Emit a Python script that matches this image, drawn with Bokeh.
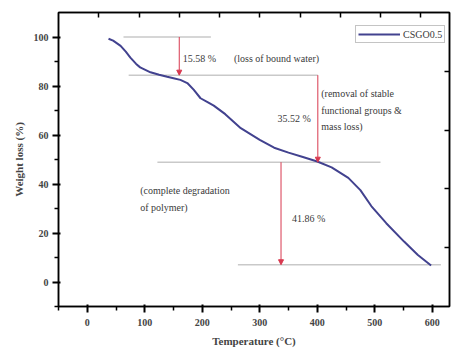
from bokeh.plotting import figure
from bokeh.models import (Range1d, LinearAxis, FixedTicker, Arrow, NormalHead,
                          Label, Legend, LegendItem)
from bokeh.embed import file_html
from bokeh.resources import INLINE

# ---- data ----
temperature = [37, 45, 58, 67, 75, 85, 92, 110, 125, 139, 150, 162, 174, 185, 197,
               210, 220, 240, 267, 300, 325, 350, 375, 400, 425, 454, 475, 494,
               520, 551, 575, 598]
weight = [99.3, 98.5, 96.4, 94.0, 91.6, 89.0, 87.6, 85.6, 84.6, 83.8, 83.2, 82.5,
          81.2, 78.5, 75.0, 73.3, 72.0, 68.5, 62.8, 58.0, 54.8, 52.8, 51.0, 49.2,
          46.8, 42.5, 37.5, 31.0, 24.0, 16.5, 11.0, 6.7]
series_name = "CSGO0.5"
x_ticks = [0, 100, 200, 300, 400, 500, 600]
x_minor = [-50, 50, 150, 250, 350, 450, 550]
y_ticks = [0, 20, 40, 60, 80, 100]
y_minor = [-10, 10, 30, 50, 70, 90]
top_ticks = [20, 90, 160, 230, 300, 370, 440, 510, 580]
right_ticks = [14, 38, 62, 86]
start_level = 100.0
drops = [15.58, 35.52, 41.86]
drop_labels = ["15.58 %", "35.52 %", "41.86 %"]
drop_temps = [160, 401, 337]
level_spans = [(63, 215), (72, 401), (122, 510), (262, 615)]
stage_texts = [["(loss of bound water)"],
               ["(removal of stable", "functional groups &", "mass loss)"],
               ["(complete degradation", "of polymer)"]]

levels = [start_level]
for d in drops:
    levels.append(round(levels[-1] - d, 2))

SERIF = "Liberation Serif"

p = figure(width=451, height=356, output_backend="svg", toolbar_location=None,
           x_range=Range1d(-50, 630), y_range=Range1d(-10, 110),
           min_border_left=58, min_border_right=2, min_border_top=12,
           min_border_bottom=50, background_fill_color="white",
           border_fill_color="white")
p.grid.visible = False
p.outline_line_color = "black"
p.outline_line_width = 1.5

# horizontal level lines
for lvl, (x0, x1) in zip(levels, level_spans):
    p.line([x0, x1], [lvl, lvl], line_color="#c9c9c9", line_width=1.5)

# drop arrows
for i, xt in enumerate(drop_temps):
    p.add_layout(Arrow(end=NormalHead(size=5, fill_color="#d8394f", line_color="#d8394f"),
                       x_start=xt, y_start=levels[i], x_end=xt, y_end=levels[i + 1],
                       line_color="#d8394f", line_width=1))

# curve
r = p.line(temperature, weight, line_color="#42428f", line_width=2)

# labels
TC = "#3a3a3a"
def lab(x, y, t, align="left"):
    p.add_layout(Label(x=x, y=y, text=t, text_font=SERIF, text_font_size="10px",
                       text_color=TC, text_align=align, text_baseline="middle"))

lab(166, 91.3, drop_labels[0])
lab(389, 66.8, drop_labels[1], "right")
lab(356, 26.0, drop_labels[2])
lab(255, 91.3, stage_texts[0][0])
for k, t in enumerate(stage_texts[1]):
    lab(407, 77.0 - 6.8 * k, t)
for k, t in enumerate(stage_texts[2]):
    lab(92, 37.2 - 6.6 * k, t)

# axes styling
for ax in (p.xaxis[0], p.yaxis[0]):
    ax.axis_line_width = 1.5
    ax.axis_line_color = "black"
    ax.major_tick_line_color = "black"
    ax.minor_tick_line_color = "black"
    ax.major_tick_line_width = 2
    ax.minor_tick_line_width = 1.5
    ax.major_tick_out = 6
    ax.major_tick_in = 2
    ax.minor_tick_out = 4
    ax.minor_tick_in = 0
    ax.major_label_text_font = SERIF
    ax.major_label_text_font_style = "bold"
    ax.major_label_text_font_size = "10px"
    ax.axis_label_text_font = SERIF
    ax.axis_label_text_font_style = "bold"
    ax.axis_label_text_font_size = "11px"
p.xaxis[0].ticker = FixedTicker(ticks=x_ticks, minor_ticks=x_minor)
p.yaxis[0].ticker = FixedTicker(ticks=y_ticks, minor_ticks=y_minor)
p.xaxis[0].axis_label = "Temperature (°C)"
p.yaxis[0].axis_label = "Weight loss (%)"
p.xaxis[0].major_label_standoff = 6
p.xaxis[0].axis_label_standoff = 6
p.yaxis[0].major_label_standoff = 4
p.yaxis[0].axis_label_standoff = 6

top = LinearAxis(ticker=FixedTicker(ticks=top_ticks),
                 major_label_overrides={t: "" for t in top_ticks},
                 major_tick_in=5, major_tick_out=0, major_tick_line_color="black",
                 minor_tick_in=0, minor_tick_out=0, axis_line_width=1.5,
                 major_tick_line_width=1.5, major_label_standoff=0)
p.add_layout(top, "above")
right = LinearAxis(ticker=FixedTicker(ticks=right_ticks),
                   major_label_overrides={t: "" for t in right_ticks},
                   major_tick_in=5, major_tick_out=0, major_tick_line_color="black",
                   minor_tick_in=0, minor_tick_out=0, axis_line_width=1.5,
                   major_tick_line_width=1.5, major_label_standoff=0)
p.add_layout(right, "right")

legend = Legend(items=[LegendItem(label=series_name, renderers=[r])],
                location=(297, 263), padding=2, margin=0, spacing=0,
                label_standoff=3, glyph_width=42, glyph_height=12, label_height=12,
                label_text_font=SERIF, label_text_font_size="10px",
                label_text_color=TC, border_line_color="#8a8a8a",
                border_line_width=1, background_fill_alpha=1)
p.add_layout(legend)

open("out.html", "w").write(file_html(p, INLINE))
